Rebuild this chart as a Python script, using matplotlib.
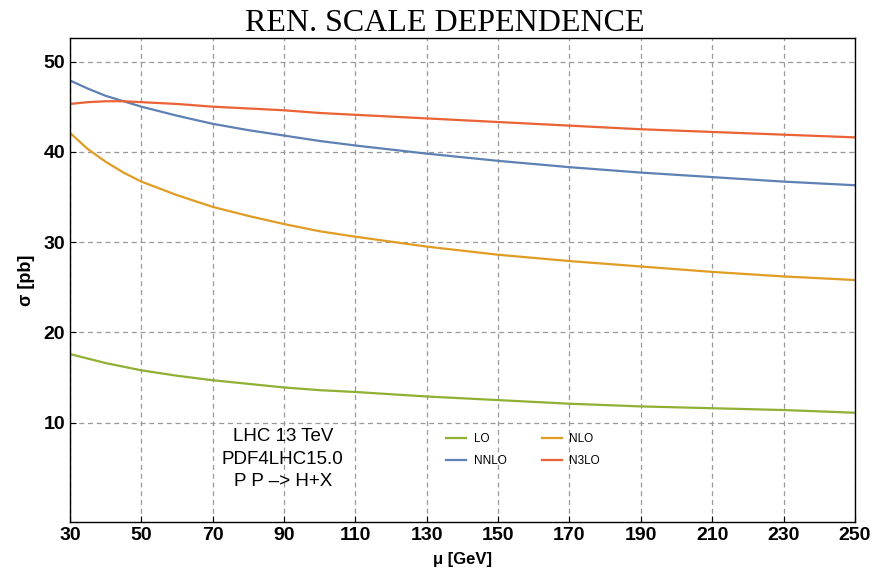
import matplotlib.pyplot as plt

# renormalisation scale mu [GeV] and cross sections [pb]
mu = [30, 35, 40, 45, 50, 60, 70, 80, 90, 100, 110, 130, 150, 170, 190, 210, 230, 250]
lo = [17.6, 17.1, 16.6, 16.2, 15.8, 15.2, 14.7, 14.3, 13.9, 13.6, 13.4, 12.9, 12.5, 12.1, 11.8, 11.6, 11.4, 11.1]
nlo = [42.1, 40.3, 38.9, 37.7, 36.7, 35.2, 33.9, 32.9, 32.0, 31.2, 30.6, 29.5, 28.6, 27.9, 27.3, 26.7, 26.2, 25.8]
nnlo = [47.9, 47.0, 46.2, 45.6, 45.0, 44.0, 43.1, 42.4, 41.8, 41.2, 40.7, 39.8, 39.0, 38.3, 37.7, 37.2, 36.7, 36.3]
n3lo = [45.3, 45.5, 45.6, 45.6, 45.5, 45.3, 45.0, 44.8, 44.6, 44.3, 44.1, 43.7, 43.3, 42.9, 42.5, 42.2, 41.9, 41.6]

xticks = list(range(30, 251, 20))
yticks = [10, 20, 30, 40, 50]

plt.rcParams["font.family"] = ["Liberation Sans", "DejaVu Sans"]

fig = plt.figure(figsize=(8.75, 5.68), dpi=100)
ax = fig.add_axes([0.08, 0.081, 0.897, 0.852])

l_lo, = ax.plot(mu, lo, color="#8fb032", lw=1.6, label="LO")
l_nlo, = ax.plot(mu, nlo, color="#e19c24", lw=1.6, label="NLO")
l_nnlo, = ax.plot(mu, nnlo, color="#5e81b5", lw=1.6, label="NNLO")
l_n3lo, = ax.plot(mu, n3lo, color="#eb6235", lw=1.6, label="N3LO")

ax.set_xlim(30, 250)
ax.set_ylim(-1, 52.6)
ax.set_xticks(xticks)
ax.set_yticks(yticks)
ax.grid(True, ls=(0, (4, 3)), color="#999999", lw=0.9)
ax.tick_params(direction="in", length=4, labelsize=14)
for t in ax.get_xticklabels() + ax.get_yticklabels():
    t.set_fontweight("bold")
for s in ax.spines.values():
    s.set_linewidth(1.0)

ax.set_ylabel("\u03c3 [pb]", fontsize=13, fontweight="bold", labelpad=6)
# reference has the x label squeezed against the bottom edge
ax.set_xlabel("\u03bc [GeV]", fontsize=12, fontweight="bold", labelpad=6)

ax.set_title("REN. SCALE DEPENDENCE", family=["Liberation Serif", "DejaVu Serif"],
             fontsize=23, pad=3, x=0.478)

ax.text(0.271, 0.13, "LHC 13 TeV\nPDF4LHC15.0\nP P \u2013> H+X", transform=ax.transAxes,
        ha="center", va="center", fontsize=13.5, linespacing=1.4)

ax.legend(handles=[l_lo, l_nnlo, l_nlo, l_n3lo], ncol=2, loc="upper left",
          bbox_to_anchor=(0.466, 0.205), frameon=False, fontsize=8.5,
          handlelength=1.7, handletextpad=0.6, columnspacing=3.0, labelspacing=0.85)

fig.savefig("out.png", dpi=100)
